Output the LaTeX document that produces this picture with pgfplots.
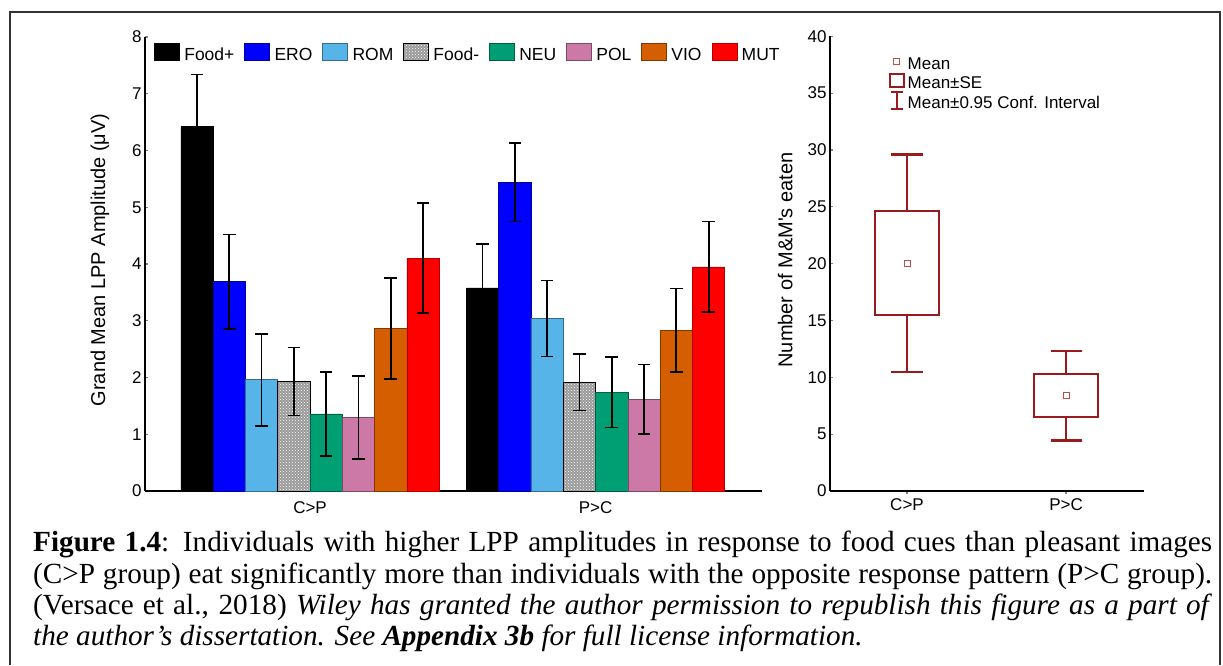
\documentclass[border=0pt]{standalone}
\usepackage{fontspec}
\setmainfont{Liberation Serif}
\newfontfamily\arial{Liberation Sans}
\usepackage{pgfplots}
\pgfplotsset{compat=1.18}
\usepgfplotslibrary{statistics}
\usetikzlibrary{patterns}

\definecolor{ero}{RGB}{0,0,255}
\definecolor{rom}{RGB}{86,180,233}
\definecolor{neu}{RGB}{0,158,115}
\definecolor{pol}{RGB}{204,121,167}
\definecolor{vio}{RGB}{213,94,0}
\definecolor{mut}{RGB}{255,0,0}
\definecolor{boxred}{RGB}{152,28,30}
\definecolor{meanred}{RGB}{185,80,80}

\newcommand{\chartfont}{\arial\fontsize{17}{20}\selectfont}

\begin{document}
\begin{tikzpicture}[x=1pt,y=1pt]
\useasboundingbox (0pt,0pt) rectangle (1223pt,665pt);
\draw[line width=1.3pt, black!80] (10pt,0pt) -- (10pt,653pt) -- (1220pt,653pt) -- (1220pt,0pt);

% left: LPP amplitude bars
\begin{axis}[
  at={(145pt,174pt)}, anchor=south west,
  scale only axis, width=617pt, height=454pt,
  ybar=0pt, bar width=32.3pt,
  xmin=-0.578, xmax=1.583, ymin=0, ymax=8,
  axis x line*=bottom, axis y line*=left,
  axis line style={line width=2.5pt,-},
  xtick={0,1}, xticklabels={C>P,P>C}, xtick style={draw=none},
  xticklabel style={yshift=-4pt},
  ytick={0,...,8}, ytick align=inside, ytick style={line width=1.2pt},
  major tick length=3pt,
  ticklabel style={font=\chartfont},
  /pgf/number format/assume math mode=true,
  ylabel={Grand Mean LPP Amplitude (μV)},
  ylabel style={font=\arial\fontsize{20}{24}\selectfont, at={(axis description cs:-0.073,0.509)}, anchor=center},
  error bars/y dir=both, error bars/y explicit,
  error bars/error bar style={black, line width=1.8pt},
  error bars/error mark options={black, rotate=90, mark size=6.3pt, line width=1.8pt},
  legend columns=8,
  legend style={at={(axis description cs:0.0146,0.967)}, anchor=west,
    draw=none, fill=none, inner sep=0pt, font=\arial\fontsize{17.5}{20}\selectfont,
    nodes={inner xsep=4.5pt, inner ysep=1pt, text height=12.6pt, text depth=0pt},
    /tikz/every even column/.append style={column sep=5.5pt}},
  legend image code/.code={\draw[#1] (0pt,-5.8pt) rectangle (25pt,11.2pt);},
]
\addplot[fill=black, draw=black, line width=0.6pt] coordinates {(0,6.42) +- (0,0.92) (1,3.58) +- (0,0.77)};
\addplot[fill=ero, draw=ero!60!black, line width=0.6pt] coordinates {(0,3.69) +- (0,0.83) (1,5.44) +- (0,0.69)};
\addplot[fill=rom, draw=rom!60!black, line width=0.6pt] coordinates {(0,1.96) +- (0,0.81) (1,3.04) +- (0,0.67)};
\addplot[fill=gray!80, draw=black, line width=0.6pt, postaction={pattern=crosshatch dots, pattern color=white}] coordinates {(0,1.93) +- (0,0.60) (1,1.92) +- (0,0.50)};
\addplot[fill=neu, draw=neu!60!black, line width=0.6pt] coordinates {(0,1.36) +- (0,0.74) (1,1.74) +- (0,0.62)};
\addplot[fill=pol, draw=pol!60!black, line width=0.6pt] coordinates {(0,1.29) +- (0,0.73) (1,1.62) +- (0,0.61)};
\addplot[fill=vio, draw=vio!60!black, line width=0.6pt] coordinates {(0,2.87) +- (0,0.89) (1,2.83) +- (0,0.74)};
\addplot[fill=mut, draw=mut!70!black, line width=0.6pt] coordinates {(0,4.10) +- (0,0.97) (1,3.95) +- (0,0.80)};
\legend{Food+,ERO,ROM,Food-,NEU,POL,VIO,MUT}
\end{axis}

% right: M&M's eaten
\begin{axis}[
  at={(830pt,174pt)}, anchor=south west,
  scale only axis, width=314pt, height=454.7pt,
  xmin=-0.484, xmax=1.49, ymin=0, ymax=40,
  axis x line*=bottom, axis y line*=left,
  axis line style={line width=2.5pt,-},
  xtick={0,1}, xticklabels={C>P,P>C}, xtick align=outside,
  ytick={0,5,...,40}, ytick align=inside,
  major tick length=3pt, tick style={line width=1.2pt},
  xticklabel style={yshift=-1pt},
  ticklabel style={font=\chartfont},
  /pgf/number format/assume math mode=true,
  ylabel={Number of M\&M's eaten},
  ylabel style={font=\arial\fontsize{20}{24}\selectfont, at={(axis description cs:-0.143,0.508)}, anchor=center},
  boxplot/draw direction=y,
  legend cell align=left,
  legend style={at={(axis description cs:0.185,0.972)}, anchor=north west,
    draw=none, fill=none, inner sep=0pt, font=\chartfont, row sep=-1.5pt,
    nodes={inner xsep=3pt, inner ysep=1pt, text height=12.3pt, text depth=0pt}},
]
\addplot[forget plot, boxred, line width=2.6pt,
  boxplot/every median/.style={draw=none},
  boxplot prepared={lower whisker=10.47, lower quartile=15.48, median=20.03,
    upper quartile=24.63, upper whisker=29.6, draw position=0,
    box extend=0.4025, whisker extend=0.195}] coordinates {};
\addplot[forget plot, boxred, line width=2.6pt,
  boxplot/every median/.style={draw=none},
  boxplot prepared={lower whisker=4.46, lower quartile=6.51, median=8.39,
    upper quartile=10.29, upper whisker=12.32, draw position=1,
    box extend=0.4025, whisker extend=0.195}] coordinates {};
\addplot[forget plot, only marks, mark=square, mark size=3pt,
  mark options={draw=meanred, line width=0.9pt}] coordinates {(0,20.03) (1,8.39)};
\addlegendimage{legend image code/.code={\path (0pt,-3.4pt) (16pt,13.6pt); \draw[overlay,meanred,line width=1pt] (5pt,-1.4pt) rectangle (11pt,4.6pt);}}
\addlegendentry{Mean}
\addlegendimage{legend image code/.code={\path (0pt,-3.4pt) (16pt,13.6pt); \draw[overlay,boxred,line width=2pt] (1pt,-4.9pt) rectangle (15pt,8.1pt);}}
\addlegendentry{Mean±SE}
\addlegendimage{legend image code/.code={\path (0pt,-3.4pt) (16pt,13.6pt); \draw[overlay,boxred,line width=2pt] (8pt,-6.9pt)--(8pt,10.1pt) (2pt,10.1pt)--(14pt,10.1pt) (2pt,-6.9pt)--(14pt,-6.9pt);}}
\addlegendentry{Mean±0.95 Conf. Interval}
\end{axis}

\node[anchor=north west, inner sep=0pt, text width=1179pt, align=justify,
  font=\fontsize{29.2}{31.3}\selectfont] at (33pt,134pt) {%
\textbf{Figure 1.4}: Individuals with higher LPP amplitudes in response to food cues than pleasant images\linebreak
(C>P group) eat significantly more than individuals with the opposite response pattern (P>C group).\linebreak
(Versace et al., 2018) \textit{Wiley has granted the author permission to republish this figure as a part of}\linebreak
\textit{the author’s dissertation. See \textbf{Appendix 3b} for full license information.}};
\end{tikzpicture}
\end{document}
